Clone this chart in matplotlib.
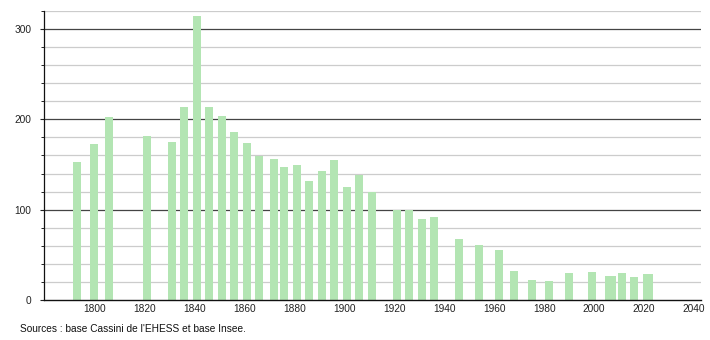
import matplotlib
matplotlib.use("Agg")
import matplotlib.pyplot as plt
from matplotlib.ticker import MultipleLocator

years = [1793, 1800, 1806, 1821, 1831, 1836, 1841, 1846, 1851, 1856, 1861, 1866,
         1872, 1876, 1881, 1886, 1891, 1896, 1901, 1906, 1911, 1921, 1926, 1931,
         1936, 1946, 1954, 1962, 1968, 1975, 1982, 1990, 1999, 2006, 2007, 2011,
         2016, 2021, 2022]
population = [153, 173, 202, 182, 175, 214, 314, 214, 204, 186, 174, 159,
              156, 147, 150, 132, 143, 155, 125, 138, 120, 100, 100, 90,
              92, 68, 61, 56, 32, 22, 21, 30, 31, 27, 27, 30,
              26, 29, 29]
x_ticks = [1800, 1820, 1840, 1860, 1880, 1900, 1920, 1940, 1960, 1980, 2000, 2020, 2040]
y_ticks = [0, 100, 200, 300]
source_text = "Sources : base Cassini de l'EHESS et base Insee."

plt.rcParams['font.family'] = ['Liberation Sans', 'DejaVu Sans']

fig = plt.figure(figsize=(7.1, 3.4), dpi=100)
ax = fig.add_axes([0.0624, 0.1168, 0.9246, 0.852])

ax.set_xlim(1780, 2042.7)
ax.set_ylim(0, 320)

# grid lines
for v in range(20, 321, 20):
    if v % 100 == 0:
        ax.axhline(v, color='#444444', lw=0.9, zorder=1)
    else:
        ax.axhline(v, color='#cccccc', lw=0.9, zorder=1)

ax.bar(years, population, width=3.2, color='#b3e5b3', zorder=2, linewidth=0)

ax.set_xticks(x_ticks)
ax.set_xticklabels([str(t) for t in x_ticks])
ax.set_yticks(y_ticks)
ax.yaxis.set_minor_locator(MultipleLocator(20))

ax.tick_params(axis='x', length=0, labelsize=7.3, pad=3, colors='#222222')
ax.tick_params(axis='y', which='major', length=3, width=0.8, labelsize=7.3, pad=6.5, colors='#222222')
ax.tick_params(axis='y', which='minor', length=2.5, width=0.7, colors='#222222')

for s in ['top', 'right']:
    ax.spines[s].set_visible(False)
ax.spines['left'].set_color('#111111')
ax.spines['left'].set_linewidth(0.9)
ax.spines['bottom'].set_color('#111111')
ax.spines['bottom'].set_linewidth(1.0)
ax.spines['bottom'].set_zorder(3)

fig.text(20 / 710, 1 - 329 / 340, source_text, fontsize=7.3, color='#111111',
         ha='left', va='center')

fig.savefig("out.png", dpi=100)
